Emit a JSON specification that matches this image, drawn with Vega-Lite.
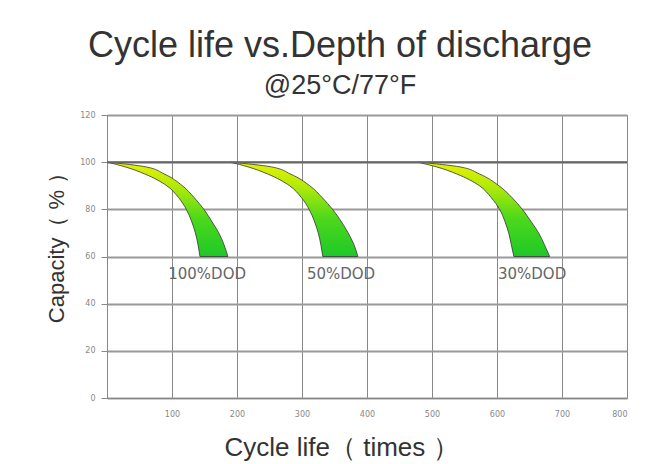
{
  "$schema": "https://vega.github.io/schema/vega-lite/v6.json",
  "width": 520,
  "height": 283,
  "autosize": "none",
  "padding": {"left": 107, "top": 115, "right": 42, "bottom": 66},
  "background": "white",
  "title": {
    "text": "Cycle life vs.Depth of discharge",
    "subtitle": "@25°C/77°F",
    "anchor": "middle",
    "dx": -27,
    "offset": 11,
    "font": "Liberation Sans",
    "fontSize": 36,
    "fontWeight": "normal",
    "color": "#333333",
    "subtitleFont": "Liberation Sans",
    "subtitleFontSize": 27,
    "subtitleColor": "#333333",
    "subtitlePadding": 8
  },
  "datasets": {
    "bands": [
      {"dod": "100%DOD", "y": 100, "x1": 0, "x2": 0},
      {"dod": "100%DOD", "y": 99, "x1": 15, "x2": 35},
      {"dod": "100%DOD", "y": 98, "x1": 28, "x2": 60},
      {"dod": "100%DOD", "y": 95, "x1": 58, "x2": 88},
      {"dod": "100%DOD", "y": 90, "x1": 92, "x2": 116},
      {"dod": "100%DOD", "y": 85, "x1": 110, "x2": 134},
      {"dod": "100%DOD", "y": 80, "x1": 122, "x2": 149},
      {"dod": "100%DOD", "y": 75, "x1": 130, "x2": 161},
      {"dod": "100%DOD", "y": 70, "x1": 136, "x2": 172},
      {"dod": "100%DOD", "y": 65, "x1": 140, "x2": 180},
      {"dod": "100%DOD", "y": 60, "x1": 143, "x2": 186},
      {"dod": "50%DOD", "y": 100, "x1": 189, "x2": 189},
      {"dod": "50%DOD", "y": 99, "x1": 204, "x2": 226},
      {"dod": "50%DOD", "y": 98, "x1": 217, "x2": 253},
      {"dod": "50%DOD", "y": 95, "x1": 247, "x2": 282},
      {"dod": "50%DOD", "y": 90, "x1": 281, "x2": 312},
      {"dod": "50%DOD", "y": 85, "x1": 299, "x2": 331},
      {"dod": "50%DOD", "y": 80, "x1": 311, "x2": 347},
      {"dod": "50%DOD", "y": 75, "x1": 319, "x2": 360},
      {"dod": "50%DOD", "y": 70, "x1": 325, "x2": 371},
      {"dod": "50%DOD", "y": 65, "x1": 329, "x2": 380},
      {"dod": "50%DOD", "y": 60, "x1": 332, "x2": 386},
      {"dod": "30%DOD", "y": 100, "x1": 478, "x2": 478},
      {"dod": "30%DOD", "y": 99, "x1": 493, "x2": 516},
      {"dod": "30%DOD", "y": 98, "x1": 507, "x2": 543},
      {"dod": "30%DOD", "y": 95, "x1": 538, "x2": 573},
      {"dod": "30%DOD", "y": 90, "x1": 573, "x2": 603},
      {"dod": "30%DOD", "y": 85, "x1": 591, "x2": 623},
      {"dod": "30%DOD", "y": 80, "x1": 604, "x2": 639},
      {"dod": "30%DOD", "y": 75, "x1": 612, "x2": 652},
      {"dod": "30%DOD", "y": 70, "x1": 618, "x2": 664},
      {"dod": "30%DOD", "y": 65, "x1": 622, "x2": 673},
      {"dod": "30%DOD", "y": 60, "x1": 626, "x2": 681}
    ],
    "labels": [
      {"label": "100%DOD", "x": 154, "y": 52.5},
      {"label": "50%DOD", "x": 360, "y": 52.5},
      {"label": "30%DOD", "x": 654, "y": 52.5}
    ],
    "full": [{"y": 100}]
  },
  "encoding": {
    "y": {
      "field": "y", "type": "quantitative",
      "scale": {"domain": [0, 120], "nice": false},
      "axis": {
        "values": [0, 20, 40, 60, 80, 100, 120],
        "title": "Capacity（ % ）",
        "titleFont": "Liberation Sans",
        "titleFontSize": 22,
        "titleFontWeight": "normal",
        "titleColor": "#333333",
        "titleBaseline": "alphabetic",
        "titleX": -44,
        "titleY": 127,
        "titleAlign": "center",
        "labelFont": "DejaVu Sans",
        "labelFontSize": 8,
        "labelColor": "#888888",
        "labelPadding": 6,
        "tickColor": "#888888",
        "tickSize": 6,
        "domainColor": "#888888",
        "gridColor": "#999999",
        "gridWidth": 2
      }
    }
  },
  "layer": [
    {
      "data": {"name": "bands"},
      "mark": {
        "type": "area",
        "orient": "horizontal",
        "interpolate": "monotone",
        "stroke": "#333333",
        "strokeWidth": 0.8,
        "fill": {
          "gradient": "linear",
          "x1": 0, "y1": 0, "x2": 0, "y2": 1,
          "stops": [
            {"offset": 0, "color": "#e6f200"},
            {"offset": 0.25, "color": "#b4ea08"},
            {"offset": 0.6, "color": "#4cd81c"},
            {"offset": 1, "color": "#1ec828"}
          ]
        }
      },
      "encoding": {
        "x": {
          "field": "x1", "type": "quantitative",
          "scale": {"domain": [0, 800], "nice": false},
          "axis": {
            "values": [100, 200, 300, 400, 500, 600, 700, 800],
            "title": "Cycle life（ times ）",
            "titleFont": "Liberation Sans",
            "titleFontSize": 26,
            "titleFontWeight": "normal",
            "titleColor": "#333333",
            "titleBaseline": "alphabetic",
            "titleX": 234,
            "titleY": 57,
            "titleAlign": "center",
            "labelFont": "DejaVu Sans",
            "labelFontSize": 8,
            "labelColor": "#888888",
            "labelPadding": 12,
            "ticks": false,
            "domainColor": "#888888",
            "gridColor": "#888888",
            "gridWidth": 1
          }
        },
        "x2": {"field": "x2"},
        "detail": {"field": "dod"}
      }
    },
    {
      "data": {"name": "full"},
      "mark": {"type": "rule", "color": "#666666", "strokeWidth": 2},
      "encoding": {}
    },
    {
      "data": {"name": "labels"},
      "mark": {"type": "text", "font": "DejaVu Sans", "fontSize": 15, "color": "#666666", "letterSpacing": 1.5},
      "encoding": {
        "x": {"field": "x", "type": "quantitative"},
        "text": {"field": "label"}
      }
    }
  ],
  "config": {
    "view": {"stroke": "#999999", "strokeWidth": 1}
  }
}
